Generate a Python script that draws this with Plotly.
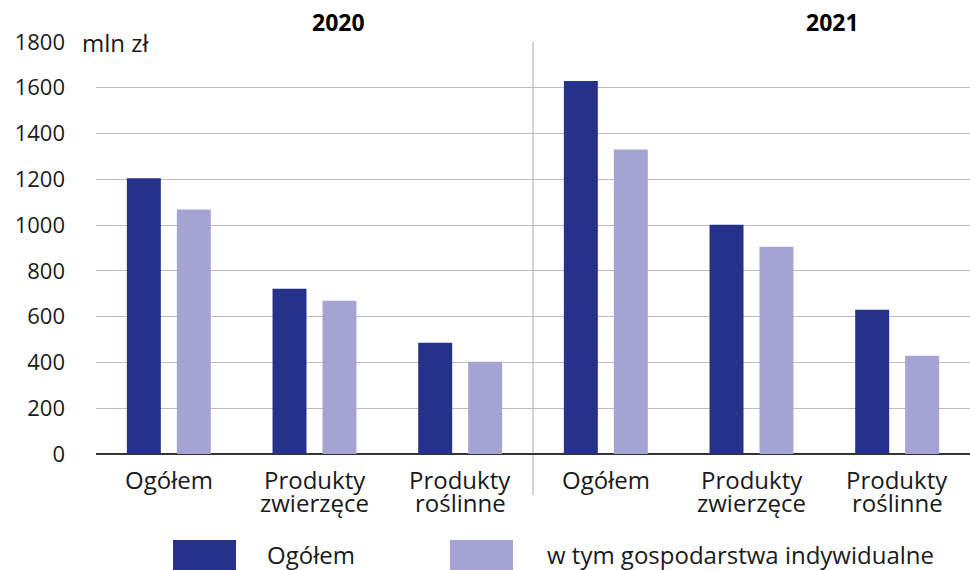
import plotly.graph_objects as go

categories = ["Ogółem", "Produkty<br>zwierzęce", "Produkty<br>roślinne",
              "Ogółem", "Produkty<br>zwierzęce", "Produkty<br>roślinne"]
years = ["2020", "2021"]
ogolem = [1205, 722, 486, 1630, 1002, 630]
indywidualne = [1068, 670, 403, 1330, 906, 429]
series_names = ["Ogółem", "w tym gospodarstwa indywidualne"]
y_ticks = [0, 200, 400, 600, 800, 1000, 1200, 1400, 1600, 1800]

DARK = "#26318A"
LIGHT = "#A4A3D4"
FONT = "Open Sans"
FS = 24
FSY = 22

x = list(range(len(categories)))

fig = go.Figure()
fig.add_trace(go.Bar(x=x, y=ogolem, name=series_names[0], marker_color=DARK,
                     marker_line_width=0))
fig.add_trace(go.Bar(x=x, y=indywidualne, name=series_names[1], marker_color=LIGHT,
                     marker_line_width=0))

W, H = 970, 570
L, R, T, B = 96, 0, 42, 116
pw, ph = W - L - R, H - T - B

def px(xp):
    return (xp - L) / pw

def py(yp):
    return (H - B - yp) / ph

fig.update_layout(
    width=W, height=H,
    margin=dict(l=L, r=R, t=T, b=B, autoexpand=False),
    barmode="group", bargap=0.314, bargroupgap=0.32,
    plot_bgcolor="white", paper_bgcolor="white",
    showlegend=False,
    font=dict(family=FONT, size=FS, color="#1a1a1a"),
    xaxis=dict(tickvals=x, range=[-0.5, 5.5], automargin=False, showticklabels=False,
               showgrid=False, zeroline=False, showline=False, ticks=""),
    yaxis=dict(range=[0, 1800], tickvals=y_ticks, showgrid=True, automargin=False,
               gridcolor="#BDBDBD", gridwidth=1.3, zeroline=True,
               zerolinecolor="#333333", zerolinewidth=1.5, ticks="",
               ticklabelstandoff=30, tickfont=dict(size=FSY)),
)

shapes = []
# hide part of top gridline behind unit label
shapes.append(dict(type="line", xref="paper", yref="y", x0=0, x1=px(170), y0=1800, y1=1800,
                   line=dict(color="white", width=3), layer="above"))
# separator between years
shapes.append(dict(type="line", xref="x", yref="paper", x0=2.5, x1=2.5, y0=py(495), y1=1,
                   line=dict(color="#BDBDBD", width=1.3), layer="below"))
# legend swatches
shapes.append(dict(type="rect", xref="paper", yref="paper", x0=px(173), x1=px(236),
                   y0=py(570), y1=py(540), fillcolor=DARK, line_width=0))
shapes.append(dict(type="rect", xref="paper", yref="paper", x0=px(450), x1=px(513),
                   y0=py(570), y1=py(540), fillcolor=LIGHT, line_width=0))
fig.update_layout(shapes=shapes)

ann = []
# category labels (one annotation per line, positioned on the x axis scale)
for xi, lab in zip(x, categories):
    for k, line in enumerate(lab.split("<br>")):
        ann.append(dict(text=line, xref="x", yref="paper", x=xi, y=py(479 + 23 * k),
                        xanchor="center", yanchor="middle", showarrow=False,
                        borderpad=0, font=dict(size=FS)))
ann.append(dict(text="mln zł", xref="paper", yref="paper", x=px(80), y=py(42),
                xanchor="left", yanchor="middle", showarrow=False, font=dict(size=FS)))
ann.append(dict(text="<b>" + years[0] + "</b>", xref="paper", yref="paper", x=px(338), y=py(22),
                xanchor="center", yanchor="middle", showarrow=False, font=dict(size=23, color="black")))
ann.append(dict(text="<b>" + years[1] + "</b>", xref="paper", yref="paper", x=px(832), y=py(22),
                xanchor="center", yanchor="middle", showarrow=False, font=dict(size=23, color="black")))
ann.append(dict(text=series_names[0], xref="paper", yref="paper", x=px(265), y=py(554),
                xanchor="left", yanchor="middle", showarrow=False, font=dict(size=FS)))
ann.append(dict(text=series_names[1], xref="paper", yref="paper", x=px(545), y=py(554),
                xanchor="left", yanchor="middle", showarrow=False, font=dict(size=FS)))
fig.update_layout(annotations=ann)

fig.write_html("out.html", config={"displayModeBar": False},
               post_script="document.body.style.margin='0';document.body.style.overflow='hidden';")
